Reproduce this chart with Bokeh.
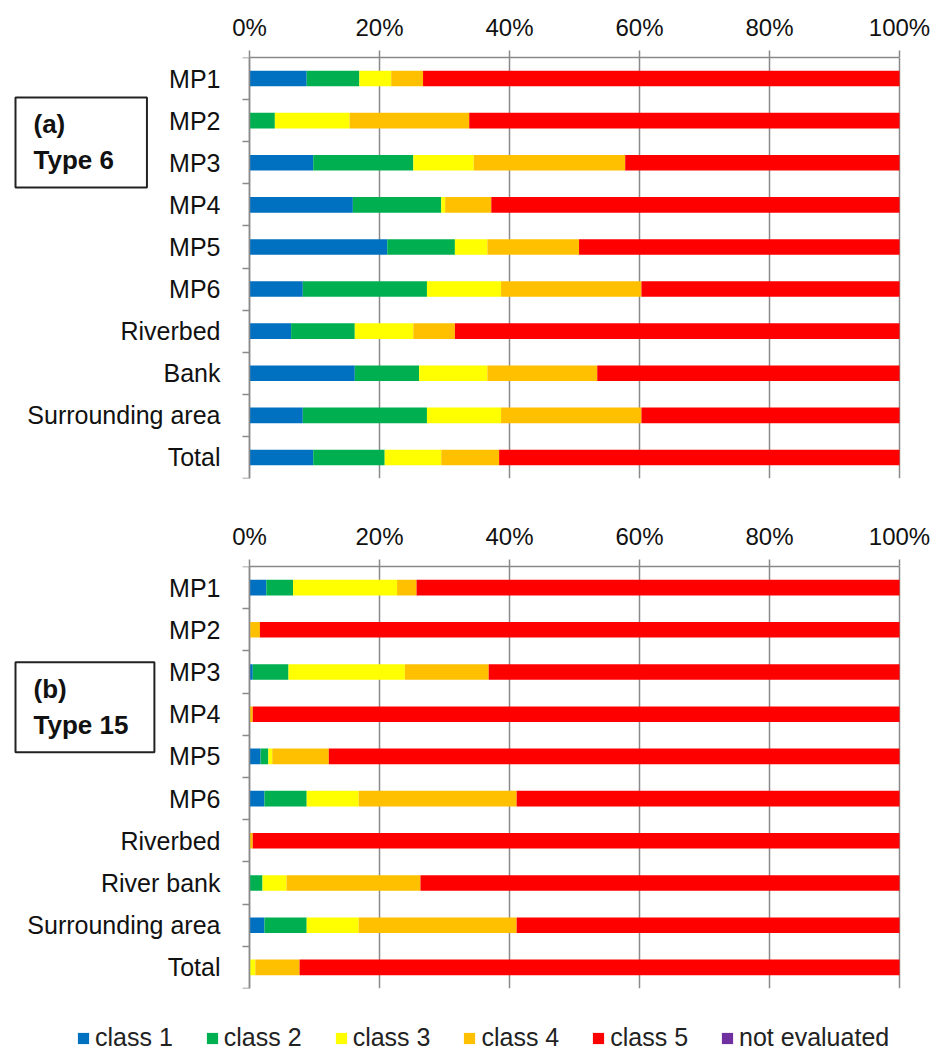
from bokeh.plotting import figure
from bokeh.models import (ColumnDataSource, Range1d, FixedTicker, PrintfTickFormatter,
                          Label, Legend, LegendItem)
from bokeh.layouts import column
from bokeh.embed import file_html
from bokeh.resources import INLINE

# ---------------- data ----------------
cats_a = ["MP1", "MP2", "MP3", "MP4", "MP5", "MP6", "Riverbed", "Bank", "Surrounding area", "Total"]
c1_a = [8.8, 0.0, 9.8, 15.9, 21.2, 8.2, 6.4, 16.2, 8.2, 9.8]
c2_a = [8.1, 3.9, 15.4, 13.6, 10.4, 19.1, 9.8, 9.9, 19.1, 11.0]
c3_a = [4.9, 11.5, 9.3, 0.6, 5.0, 11.4, 9.0, 10.5, 11.4, 8.7]
c4_a = [4.9, 18.4, 23.3, 7.1, 14.1, 21.6, 6.4, 16.9, 21.6, 8.9]
c5_a = [73.3, 66.2, 42.2, 62.8, 49.3, 39.7, 68.4, 46.5, 39.7, 61.6]
ne_a = [0, 0, 0, 0, 0, 0, 0, 0, 0, 0]

cats_b = ["MP1", "MP2", "MP3", "MP4", "MP5", "MP6", "Riverbed", "River bank", "Surrounding area", "Total"]
c1_b = [2.6, 0.0, 0.5, 0.0, 1.7, 2.3, 0.0, 0.0, 2.3, 0.0]
c2_b = [4.1, 0.0, 5.5, 0.0, 1.2, 6.5, 0.0, 2.0, 6.5, 0.1]
c3_b = [16.0, 0.1, 17.9, 0.0, 0.6, 8.0, 0.0, 3.7, 8.0, 0.8]
c4_b = [3.0, 1.5, 12.9, 0.5, 8.7, 24.3, 0.5, 20.6, 24.3, 6.8]
c5_b = [74.3, 98.4, 63.2, 99.5, 87.8, 58.9, 99.5, 73.7, 58.9, 92.3]
ne_b = [0, 0, 0, 0, 0, 0, 0, 0, 0, 0]

series_names = ["class 1", "class 2", "class 3", "class 4", "class 5", "not evaluated"]
colors = ["#0070C0", "#00B050", "#FFFF00", "#FFC000", "#FF0000", "#7030A0"]
x_ticks = [0, 20, 40, 60, 80, 100]

FONT = "Liberation Sans"
GRAY = "#8a8a8a"
keys = ["c1", "c2", "c3", "c4", "c5", "ne"]

W = 940
ZERO_PX = 249.0     # pixel where 0 % sits
PX_PER = 6.5        # pixels per percent


def x_view():
    return Range1d(-ZERO_PX / PX_PER, (W - ZERO_PX) / PX_PER)


def panel(cats, vals, height, mb_top, mb_bottom, box_text, box_pad, box_x, box_y):
    n = len(cats)
    ys = [i + 0.5 for i in range(n)]
    data = {"y": ys}
    for k, v in zip(keys, vals):
        data[k] = v
    src = ColumnDataSource(data)
    p = figure(width=W, height=height, x_range=x_view(), y_range=Range1d(n, 0),
               x_axis_location="above", output_backend="svg", toolbar_location=None,
               min_border_left=0, min_border_right=0,
               min_border_top=mb_top, min_border_bottom=mb_bottom)
    p.outline_line_color = None
    p.hbar_stack(keys, y="y", height=0.37, source=src, fill_color=colors, line_color=None)

    xa = p.xaxis[0]
    xa.bounds = (0, 100)
    xa.ticker = FixedTicker(ticks=x_ticks, minor_ticks=[])
    xa.formatter = PrintfTickFormatter(format="%d%%")
    xa.major_label_text_font = FONT
    xa.major_label_text_font_size = "24px"
    xa.major_label_text_color = "#111111"
    xa.major_tick_out = 7
    xa.major_tick_in = 0
    xa.major_tick_line_color = GRAY
    xa.major_tick_line_width = 1.5
    xa.minor_tick_out = 0
    xa.minor_tick_in = 0
    xa.axis_line_color = GRAY
    xa.axis_line_width = 1.5
    xa.major_label_standoff = 10

    ya = p.yaxis[0]
    ya.fixed_location = 0
    ya.ticker = FixedTicker(ticks=ys, minor_ticks=list(range(n + 1)))
    ya.major_label_overrides = {y: c for y, c in zip(ys, cats)}
    ya.major_label_text_font = FONT
    ya.major_label_text_font_size = "25px"
    ya.major_label_text_color = "#111111"
    ya.major_tick_out = 0
    ya.major_tick_in = 0
    ya.minor_tick_out = 7
    ya.minor_tick_in = 0
    ya.minor_tick_line_color = GRAY
    ya.minor_tick_line_width = 1.5
    ya.axis_line_color = GRAY
    ya.axis_line_width = 1.5
    ya.major_label_standoff = 22

    p.xgrid.ticker = FixedTicker(ticks=x_ticks)
    p.xgrid.grid_line_color = GRAY
    p.xgrid.grid_line_width = 1.5
    p.ygrid.grid_line_color = None

    lab = Label(x=box_x, y=box_y, x_units="data", y_units="data", text=box_text,
                text_font=FONT, text_font_size="26px", text_font_style="bold",
                text_color="#111111", anchor="top_left",
                border_line_color="#222222", border_line_width=2,
                background_fill_color="white", padding=box_pad)
    p.add_layout(lab)
    return p


p1 = panel(cats_a, [c1_a, c2_a, c3_a, c4_a, c5_a, ne_a], 500, 57, 22,
           "(a)\nType 6", dict(left=18, right=33, top=12, bottom=12), -36.0, 0.95)
p2 = panel(cats_b, [c1_b, c2_b, c3_b, c4_b, c5_b, ne_b], 508, 66, 20,
           "(b)\nType 15", dict(left=18, right=26, top=12, bottom=12), -36.0, 2.27)

# ---------------- legend strip ----------------
p3 = figure(width=W, height=44, x_range=Range1d(0, 1), y_range=Range1d(0, 1),
            x_axis_location=None, y_axis_location=None, output_backend="svg",
            toolbar_location=None, min_border=0)
p3.outline_line_color = None
p3.xgrid.visible = False
p3.ygrid.visible = False
items = []
for name, c in zip(series_names, colors):
    r = p3.hbar(y=[0.5], left=[0], right=[0], height=0.5, fill_color=c, line_color=None)
    items.append(LegendItem(label=name, renderers=[r]))
leg = Legend(items=items, orientation="horizontal", location=(76, 0),
             glyph_width=14, glyph_height=14, label_standoff=5, spacing=32,
             padding=0, margin=0, border_line_color=None, background_fill_alpha=0,
             label_text_font=FONT, label_text_font_size="25px", label_text_color="#222222")
p3.add_layout(leg)

layout = column(p1, p2, p3)
open("out.html", "w").write(file_html(layout, INLINE))
